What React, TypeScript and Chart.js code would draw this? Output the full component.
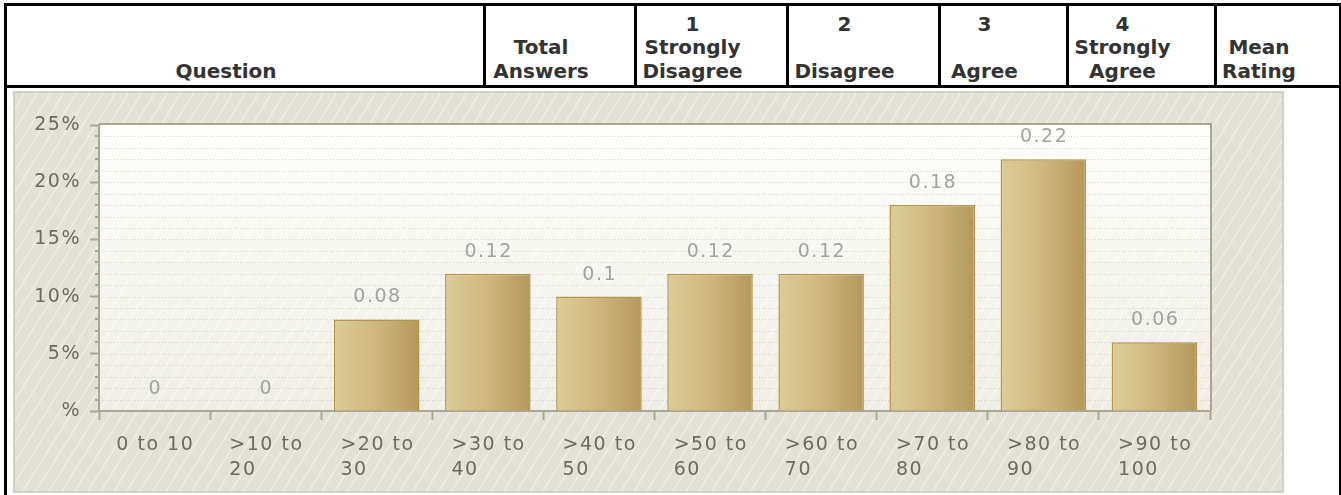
import React, { useEffect, useRef } from 'react';
import { Chart, registerables } from 'chart.js';

Chart.register(...registerables);

// ---- data ----
const categories: string[][] = [
  ['0 to 10'],
  ['>10 to', '20'],
  ['>20 to', '30'],
  ['>30 to', '40'],
  ['>40 to', '50'],
  ['>50 to', '60'],
  ['>60 to', '70'],
  ['>70 to', '80'],
  ['>80 to', '90'],
  ['>90 to', '100'],
];
const shares: number[] = [0, 0, 0.08, 0.12, 0.1, 0.12, 0.12, 0.18, 0.22, 0.06];
const yMajorTicks: number[] = [0, 0.05, 0.1, 0.15, 0.2, 0.25];
const yMinorTicks: number[] = [
  0.01, 0.02, 0.03, 0.04, 0.06, 0.07, 0.08, 0.09, 0.11, 0.12, 0.13, 0.14,
  0.16, 0.17, 0.18, 0.19, 0.21, 0.22, 0.23, 0.24,
];
const headerLines: string[][] = [
  ['Question'],
  ['Total', 'Answers'],
  ['1', 'Strongly', 'Disagree'],
  ['2', '\u00a0', 'Disagree'],
  ['3', '\u00a0', 'Agree'],
  ['4', 'Strongly', 'Agree'],
  ['Mean', 'Rating'],
];
// column content spans [start, end] in page pixels
const headerSpans: number[][] = [
  [7, 483],
  [486, 634],
  [637, 786],
  [789, 938],
  [941, 1066],
  [1069, 1214],
  [1217, 1339],
];

const AXIS = '#aaa690';
const AXIS_TEXT = '#6c6b5f';
const VALUE_TEXT = '#a2a2a2';
const FONT = '"DejaVu Sans", Verdana, sans-serif';

function stripes(ctx: CanvasRenderingContext2D, x: number, y: number, w: number, h: number, color: string) {
  ctx.save();
  ctx.beginPath();
  ctx.rect(x, y, w, h);
  ctx.clip();
  ctx.strokeStyle = color;
  ctx.lineWidth = 1.5;
  const slope = 1.6;
  const dx = h / slope;
  ctx.beginPath();
  for (let s = x - dx; s < x + w + 2; s += 13) {
    ctx.moveTo(s, y + h);
    ctx.lineTo(s + dx, y);
  }
  ctx.stroke();
  ctx.restore();
}

const backdropPlugin = {
  id: 'backdrop',
  beforeDraw(chart: any) {
    const { ctx, width, height, chartArea: a } = chart;
    const ys = chart.scales.y;
    ctx.save();
    ctx.fillStyle = '#e2e1d7';
    ctx.fillRect(0, 0, width, height);
    stripes(ctx, 0, 0, width, height, 'rgba(255,255,250,0.42)');
    const g = ctx.createLinearGradient(0, a.top, 0, a.bottom);
    g.addColorStop(0, 'rgba(255,255,252,0.97)');
    g.addColorStop(1, 'rgba(255,255,250,0.42)');
    ctx.fillStyle = g;
    ctx.fillRect(a.left, a.top, a.right - a.left, a.bottom - a.top);
    // outer frame
    ctx.strokeStyle = '#d2d0c1';
    ctx.lineWidth = 2;
    ctx.strokeRect(1, 1, width - 2, height - 2);
    // dotted grid lines
    ctx.setLineDash([1, 2]);
    ctx.strokeStyle = 'rgba(160,155,130,0.4)';
    ctx.lineWidth = 1;
    ctx.beginPath();
    for (const v of yMinorTicks.concat(yMajorTicks.slice(1, -1))) {
      const y = Math.round(ys.getPixelForValue(v)) + 0.5;
      ctx.moveTo(a.left, y);
      ctx.lineTo(a.right, y);
    }
    ctx.stroke();
    ctx.setLineDash([]);
    // minor ticks
    ctx.strokeStyle = AXIS;
    ctx.lineWidth = 2;
    ctx.beginPath();
    for (const v of yMinorTicks) {
      const y = Math.round(ys.getPixelForValue(v));
      ctx.moveTo(a.left - 4, y);
      ctx.lineTo(a.left, y);
    }
    ctx.stroke();
    // top and right border of plot
    ctx.beginPath();
    ctx.moveTo(a.left, a.top - 1);
    ctx.lineTo(a.right + 1, a.top - 1);
    ctx.lineTo(a.right + 1, a.bottom);
    ctx.stroke();
    ctx.restore();
    ctx.letterSpacing = '1.5px';
  },
  afterDatasetsDraw(chart: any) {
    const { ctx } = chart;
    const meta = chart.getDatasetMeta(0);
    ctx.save();
    ctx.letterSpacing = '1.5px';
    ctx.font = `19px ${FONT}`;
    ctx.fillStyle = VALUE_TEXT;
    ctx.textAlign = 'center';
    ctx.textBaseline = 'middle';
    meta.data.forEach((el: any, i: number) => {
      ctx.fillText(String(shares[i]), el.x + 0.75, el.y - 22);
    });
    ctx.restore();
  },
  afterDraw(chart: any) {
    const { ctx, chartArea: a } = chart;
    const xs = chart.scales.x;
    ctx.save();
    ctx.letterSpacing = '1.5px';
    ctx.font = `19px ${FONT}`;
    ctx.fillStyle = AXIS_TEXT;
    ctx.textAlign = 'left';
    ctx.textBaseline = 'middle';
    categories.forEach((lines, i) => {
      const cx = xs.getPixelForValue(i);
      const w = Math.max(...lines.map((l) => ctx.measureText(l).width)) - 1.5;
      const left = cx - w / 2;
      lines.forEach((l, j) => ctx.fillText(l, left, a.bottom + 34.5 + j * 25));
    });
    ctx.restore();
  },
};

function BarChart() {
  const ref = useRef<HTMLCanvasElement | null>(null);
  useEffect(() => {
    if (!ref.current) return;
    const chart = new Chart(ref.current, {
      type: 'bar',
      data: {
        labels: categories,
        datasets: [
          {
            data: shares,
            barPercentage: 0.77,
            categoryPercentage: 1,
            borderColor: '#b8934b',
            borderWidth: (c: any) => (shares[c.dataIndex] === 0 ? 0 : 1.5),
            borderSkipped: 'bottom',
            backgroundColor: (c: any) => {
              const chart = c.chart;
              const xs = chart.scales && chart.scales.x;
              if (!xs || c.dataIndex === undefined || !xs.width) return '#ccb47b';
              const cx = xs.getPixelForValue(c.dataIndex);
              const w = (xs.width / categories.length) * 0.77;
              const g = chart.ctx.createLinearGradient(cx - w / 2, 0, cx + w / 2, 0);
              g.addColorStop(0, '#ddcc96');
              g.addColorStop(0.5, '#ceb77e');
              g.addColorStop(1, '#b4975b');
              return g;
            },
          },
        ],
      },
      options: {
        animation: false,
        responsive: true,
        maintainAspectRatio: false,
        layout: { padding: { top: 34, right: 74, left: 0, bottom: 0 } },
        plugins: { legend: { display: false }, tooltip: { enabled: false }, title: { display: false } },
        scales: {
          x: {
            type: 'category',
            offset: true,
            afterFit: (s: any) => {
              s.height = 82;
            },
            ticks: { display: false },
            grid: {
              offset: true,
              drawOnChartArea: false,
              drawTicks: true,
              tickLength: 9,
              tickWidth: 2,
              tickColor: AXIS,
            },
            border: { display: true, color: AXIS, width: 2 },
          },
          y: {
            min: 0,
            max: 0.25,
            afterFit: (s: any) => {
              s.width = 86;
            },
            afterBuildTicks: (s: any) => {
              s.ticks = yMajorTicks.map((value) => ({ value }));
            },
            ticks: {
              color: AXIS_TEXT,
              font: { family: FONT, size: 19 },
              padding: 9,
              callback: (v: any) => {
                const p = Math.round(Number(v) * 100);
                return p === 0 ? '%' : p + '%';
              },
            },
            grid: {
              drawOnChartArea: false,
              drawTicks: true,
              tickLength: 9,
              tickWidth: 2,
              tickColor: AXIS,
            },
            border: { display: true, color: AXIS, width: 2 },
          },
        },
      },
      plugins: [backdropPlugin],
    } as any);
    return () => chart.destroy();
  }, []);
  return <canvas ref={ref} />;
}

export default function App() {
  const line = (style: React.CSSProperties) => (
    <div style={{ position: 'absolute', background: '#000', ...style }} />
  );
  return (
    <div style={{ position: 'absolute', left: 0, top: 0, width: 1341, height: 495, overflow: 'hidden', background: '#fff' }}>
      {headerSpans.map(([s, e], i) => (
        <div
          key={i}
          style={{
            position: 'absolute',
            left: s,
            top: 6,
            width: e - s,
            height: 77,
            boxSizing: 'border-box',
            paddingRight: 38,
            display: 'flex',
            flexDirection: 'column',
            justifyContent: 'flex-end',
            alignItems: 'center',
            textAlign: 'center',
            fontFamily: FONT,
            fontWeight: 'bold',
            fontSize: 20,
            lineHeight: '23.4px',
            color: '#333',
            whiteSpace: 'nowrap',
          }}
        >
          {headerLines[i].map((t, j) => (
            <div key={j}>{t}</div>
          ))}
        </div>
      ))}
      {line({ left: 4, top: 3, width: 1337, height: 3 })}
      {line({ left: 4, top: 85, width: 1337, height: 3 })}
      {line({ left: 4, top: 3, width: 3, height: 492 })}
      {line({ left: 1339, top: 3, width: 2, height: 492 })}
      {[483, 634, 786, 938, 1066, 1214].map((x) => (
        <React.Fragment key={x}>{line({ left: x, top: 3, width: 3, height: 84 })}</React.Fragment>
      ))}
      <div style={{ position: 'absolute', left: 13, top: 91, width: 1271, height: 402 }}>
        <BarChart />
      </div>
    </div>
  );
}
